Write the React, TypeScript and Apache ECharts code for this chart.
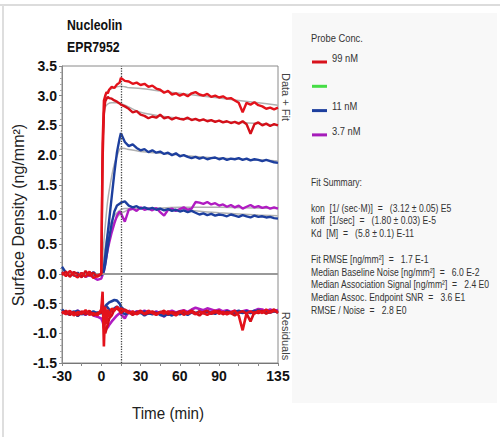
import React, { useEffect, useRef } from "react";
import * as echarts from "echarts";

const SANS = '"Liberation Sans", Arial, sans-serif';

// time points (min)
const times = [
  -30, -27, -24, -21, -18, -15, -12, -9, -6, -3,
  0, 1, 2, 3, 4, 5, 6, 8, 10, 12, 14, 15,
  18, 21, 24, 27, 30, 33, 36, 39, 42, 45, 48, 51, 54, 57, 60, 63, 66, 69, 72, 75, 78, 81, 84, 87,
  90, 93, 96, 99, 102, 105, 108, 111, 114, 117, 120, 123, 126, 129, 132, 135,
];

const redA = [
  0.03, -0.04, 0.05, -0.02, -0.06, 0.02, -0.05, 0.04, -0.07, -0.03,
  0.0, 2.2, 2.92, 3.0, 3.06, 3.04, 3.1, 3.15, 3.13, 3.19, 3.22, 3.3,
  3.25, 3.24, 3.2, 3.22, 3.18, 3.2, 3.15, 3.17, 3.12, 3.1, 3.05, 3.08, 3.02, 3.04, 3.0, 3.03, 2.99, 3.04, 3.06, 3.02, 3.0, 3.03, 2.98, 3.0,
  2.97, 2.99, 2.95, 2.96, 2.92, 2.88, 2.72, 2.88, 2.85, 2.89, 2.84, 2.82, 2.78, 2.8, 2.77, 2.8,
];
const redB = [
  -0.02, 0.04, -0.05, 0.03, 0.0, -0.06, 0.05, -0.03, 0.02, -0.05,
  0.0, 1.9, 2.7, 2.9, 2.95, 2.98, 2.96, 2.95, 2.92, 2.9, 2.87, 2.85,
  2.82, 2.78, 2.72, 2.74, 2.68, 2.66, 2.62, 2.65, 2.63, 2.68, 2.62, 2.64, 2.6, 2.63, 2.61, 2.6, 2.63, 2.59, 2.61, 2.58, 2.6, 2.57, 2.59, 2.56,
  2.58, 2.55, 2.57, 2.54, 2.56, 2.53, 2.57, 2.52, 2.36, 2.52, 2.55, 2.5, 2.53, 2.49, 2.52, 2.5,
];
const blueA = [
  0.12, 0.02, -0.03, 0.03, -0.02, 0.01, -0.04, 0.02, -0.01, -0.02,
  0.0, 0.0, 0.1, 0.3, 0.5, 0.7, 0.9, 1.3, 1.7, 2.05, 2.28, 2.37,
  2.22, 2.15, 2.18, 2.12, 2.08, 2.1, 2.05, 2.08, 2.04, 2.06, 2.02, 2.04, 2.0, 2.03, 1.98, 2.0, 1.97, 1.95, 1.97, 1.94, 1.96, 1.93, 1.95, 1.96,
  1.93, 1.95, 1.92, 1.94, 1.93, 1.95, 1.92, 1.94, 1.91, 1.93, 1.92, 1.9, 1.92, 1.9, 1.88, 1.87,
];
const blueB = [
  0.03, -0.02, 0.04, -0.03, 0.02, -0.04, 0.01, -0.02, 0.03, -0.03,
  -0.02, 0.0, 0.05, 0.15, 0.3, 0.45, 0.6, 0.85, 1.05, 1.15, 1.18, 1.2,
  1.22, 1.15, 1.12, 1.14, 1.1, 1.12, 1.09, 1.11, 1.08, 1.1, 1.07, 1.09, 1.06, 1.08, 1.05, 1.07, 1.04, 1.06, 1.03, 1.0, 1.02, 0.99, 1.01, 0.98,
  1.0, 0.99, 0.97, 1.0, 0.98, 0.96, 0.99, 0.97, 0.95, 0.98, 0.96, 0.97, 0.95, 0.96, 0.94, 0.93,
];
const purple = [
  0.0, 0.03, -0.02, 0.02, -0.03, 0.01, -0.05, -0.02, -0.06, -0.1,
  -0.08, -0.02, 0.05, 0.18, 0.3, 0.42, 0.52, 0.7, 0.85, 0.98, 1.05, 1.02,
  0.88, 1.08, 1.1, 1.06, 1.12, 1.08, 1.1, 1.07, 1.11, 1.04, 0.98, 1.08, 1.1, 1.06, 1.09, 1.12, 1.08, 1.1, 1.21, 1.2, 1.18, 1.21, 1.17, 1.19,
  1.15, 1.17, 1.13, 1.16, 1.12, 1.15, 1.1, 1.13, 1.16, 1.12, 1.14, 1.11, 1.13, 1.1, 1.12, 1.1,
];

// residuals (plotted offset around -0.65)
const resRedA = [
  -0.63, -0.68, -0.62, -0.7, -0.64, -0.67, -0.61, -0.69, -0.66, -0.7,
  -0.6, -0.3, -1.22, -0.55, -0.85, -0.6, -0.72, -0.58, -0.62, -0.55, -0.6, -0.58,
  -0.62, -0.66, -0.63, -0.68, -0.64, -0.67, -0.62, -0.66, -0.69, -0.64, -0.67, -0.63, -0.66, -0.7, -0.65, -0.62, -0.67, -0.64, -0.68, -0.63, -0.66, -0.69, -0.65, -0.62,
  -0.67, -0.64, -0.68, -0.65, -0.62, -0.7, -0.95, -0.66, -0.63, -0.67, -0.62, -0.66, -0.6, -0.65, -0.62, -0.64,
];
const resRedB = [
  -0.67, -0.62, -0.69, -0.64, -0.7, -0.63, -0.68, -0.62, -0.7, -0.66,
  -0.65, -0.45, -0.9, -1.0, -0.92, -0.85, -0.75, -0.7, -0.6, -0.58, -0.62, -0.66,
  -0.6, -0.64, -0.69, -0.65, -0.62, -0.68, -0.66, -0.63, -0.67, -0.65, -0.62, -0.68, -0.64, -0.66, -0.63, -0.69, -0.65, -0.62, -0.66, -0.7, -0.64, -0.62, -0.67, -0.65,
  -0.62, -0.68, -0.64, -0.66, -0.7, -0.65, -0.63, -0.67, -0.8, -0.64, -0.66, -0.62, -0.67, -0.63, -0.6, -0.66,
];
const resBlueA = [
  -0.6, -0.66, -0.69, -0.63, -0.71, -0.65, -0.68, -0.64, -0.67, -0.65,
  -0.65, -0.62, -0.58, -0.55, -0.52, -0.5, -0.48, -0.46, -0.44, -0.45, -0.5, -0.55,
  -0.62, -0.66, -0.64, -0.67, -0.65, -0.7, -0.66, -0.68, -0.65, -0.69, -0.71, -0.67, -0.7, -0.66, -0.68, -0.65, -0.67, -0.64, -0.66, -0.63, -0.66, -0.64, -0.67, -0.63,
  -0.65, -0.66, -0.63, -0.66, -0.64, -0.62, -0.65, -0.63, -0.66, -0.64, -0.61, -0.64, -0.62, -0.65, -0.63, -0.64,
];
const resBlueB = [
  -0.66, -0.63, -0.67, -0.65, -0.62, -0.68, -0.64, -0.66, -0.63, -0.67,
  -0.66, -0.64, -0.6, -0.56, -0.55, -0.57, -0.6, -0.63, -0.58, -0.55, -0.6, -0.63,
  -0.68, -0.65, -0.67, -0.64, -0.66, -0.63, -0.67, -0.65, -0.68, -0.64, -0.66, -0.69, -0.65, -0.67, -0.64, -0.66, -0.69, -0.65, -0.67, -0.64, -0.66, -0.63, -0.65, -0.67,
  -0.64, -0.66, -0.63, -0.65, -0.67, -0.64, -0.66, -0.63, -0.65, -0.62, -0.65, -0.63, -0.66, -0.64, -0.62, -0.65,
];
const resPurple = [
  -0.64, -0.67, -0.63, -0.66, -0.62, -0.66, -0.69, -0.65, -0.7, -0.72,
  -0.75, -0.8, -0.88, -0.95, -0.92, -0.9, -0.86, -0.8, -0.75, -0.7, -0.66, -0.68,
  -0.75, -0.62, -0.66, -0.63, -0.65, -0.62, -0.64, -0.66, -0.63, -0.67, -0.72, -0.64, -0.62, -0.65, -0.63, -0.61, -0.64, -0.6, -0.57, -0.59, -0.61, -0.58, -0.6, -0.62,
  -0.6, -0.63, -0.61, -0.64, -0.62, -0.65, -0.63, -0.61, -0.64, -0.62, -0.59, -0.6, -0.63, -0.6, -0.62, -0.61,
];

// fitted curves
const fitTimes = [-30, 0, 1, 2, 3, 5, 8, 10, 12, 15, 18, 20, 30, 45, 60, 90, 120, 135];
const fitRedA = [0, 0, 2.0, 2.7, 2.95, 3.08, 3.12, 3.14, 3.15, 3.16, 3.15, 3.14, 3.12, 3.08, 3.04, 2.96, 2.88, 2.84];
const fitRedB = [0, 0, 1.9, 2.6, 2.8, 2.86, 2.88, 2.88, 2.88, 2.87, 2.84, 2.82, 2.72, 2.66, 2.62, 2.57, 2.53, 2.5];
const fitBlueA = [0, 0, 0.3, 0.55, 0.8, 1.25, 1.65, 1.85, 1.98, 2.12, 2.11, 2.1, 2.06, 2.03, 2.0, 1.95, 1.92, 1.9];
const fitBlueB = [0, 0, 0.15, 0.3, 0.45, 0.7, 0.9, 0.98, 1.03, 1.08, 1.1, 1.1, 1.1, 1.09, 1.08, 1.03, 0.99, 0.98];
const fitPurple = [0, 0, 0.1, 0.2, 0.3, 0.55, 0.78, 0.88, 0.95, 1.02, 1.05, 1.07, 1.1, 1.11, 1.12, 1.12, 1.11, 1.1];

const xTickLabels = [-30, 0, 30, 60, 90, 135];
const legendItems = ["99 nM", "", "11 nM", "3.7 nM"];
const legendColors = ["#d8121c", "#45dd45", "#1d3f9e", "#a51cba"];
const summaryLines = [
  "Fit Summary:",
  "",
  "kon  [1/ (sec·M)]  =   (3.12 ± 0.05) E5",
  "koff  [1/sec]  =   (1.80 ± 0.03) E-5",
  "Kd  [M]  =   (5.8 ± 0.1) E-11",
  "",
  "Fit RMSE [ng/mm²]  =   1.7 E-1",
  "Median Baseline Noise [ng/mm²]  =   6.0 E-2",
  "Median Association Signal [ng/mm²]  =   2.4 E0",
  "Median Assoc. Endpoint SNR  =   3.6 E1",
  "RMSE / Noise  =   2.8 E0",
];

const RED = "#e3121b";
const RED2 = "#d40f19";
const BLUE = "#1d3f9e";
const PURPLE = "#b01cc2";

function pairs(xs: number[], ys: number[]) {
  return xs.map((x, i) => [x, ys[i]]);
}

export default function App() {
  const ref = useRef<HTMLDivElement>(null);
  useEffect(() => {
    if (!ref.current) return;
    const chart = echarts.init(ref.current, undefined, { renderer: "svg" });

    const dataLine = (name: string, ys: number[], color: string, z: number, w: number, extra: any = {}) => ({
      name,
      type: "line",
      data: pairs(times, ys),
      showSymbol: false,
      symbol: "none",
      lineStyle: { color, width: w },
      z,
      silent: true,
      ...extra,
    });
    const fitLine = (ys: number[]) => ({
      type: "line",
      data: pairs(fitTimes, ys),
      symbol: "none",
      smooth: 0.3,
      lineStyle: { color: "#b0b0b0", width: 1.5 },
      z: 1,
      silent: true,
    });

    const txt = (x: number, y: number, text: string, o: any = {}) => ({
      type: "text",
      x,
      y,
      scaleX: o.scaleX ?? 1,
      rotation: o.rotation ?? 0,
      silent: true,
      style: {
        text,
        fill: o.fill ?? "#333",
        fontSize: o.fontSize ?? 11,
        fontWeight: o.fontWeight ?? "normal",
        fontFamily: SANS,
        textAlign: o.align ?? "left",
        align: o.align ?? "left",
        textVerticalAlign: o.valign ?? "middle",
        verticalAlign: o.valign ?? "middle",
      },
    });

    const graphics: any[] = [];
    // frame
    graphics.push({ type: "rect", shape: { x: 0, y: 4, width: 500, height: 2 }, style: { fill: "#dcdcdc" }, silent: true });
    graphics.push({ type: "rect", shape: { x: 2, y: 5, width: 2, height: 432 }, style: { fill: "#dedede" }, silent: true });
    graphics.push({ type: "rect", shape: { x: 292, y: 13, width: 205, height: 390 }, style: { fill: "#f8f8f8" }, silent: true, z: -10 });
    // title
    graphics.push(txt(67, 25, "Nucleolin", { fontSize: 15, fontWeight: "bold", fill: "#111", scaleX: 0.82 }));
    graphics.push(txt(67, 47, "EPR7952", { fontSize: 15, fontWeight: "bold", fill: "#111", scaleX: 0.82 }));
    // axis names
    graphics.push(txt(18, 215, "Surface Density (ng/mm²)", { fontSize: 16, fill: "#222", align: "center", rotation: Math.PI / 2 }));
    graphics.push(txt(168, 413, "Time (min)", { fontSize: 16, fill: "#222", align: "center", scaleX: 0.95 }));
    graphics.push(txt(286, 97, "Data + Fit", { fontSize: 11, fill: "#444", align: "center", rotation: -Math.PI / 2 }));
    graphics.push(txt(286, 336, "Residuals", { fontSize: 11, fill: "#444", align: "center", rotation: -Math.PI / 2 }));
    // legend
    graphics.push(txt(311, 38, "Probe Conc.", { fontSize: 11, scaleX: 0.85 }));
    legendItems.forEach((lab, i) => {
      const y = 62 + i * 24.3;
      graphics.push({ type: "line", shape: { x1: 312, y1: y, x2: 327, y2: y }, style: { stroke: legendColors[i], lineWidth: 3 }, silent: true });
      if (lab) graphics.push(txt(332, y - 4, lab, { fontSize: 11, scaleX: 0.85 }));
    });
    // summary
    summaryLines.forEach((s, i) => {
      if (!s) return;
      graphics.push(txt(311, 182 + i * 12.8, s, { fontSize: 11, scaleX: 0.78 }));
    });

    chart.setOption({
      animation: false,
      backgroundColor: "#ffffff",
      grid: { left: 62, top: 66, width: 216, height: 297, show: true, borderColor: "#8a8a8a", borderWidth: 1, backgroundColor: "transparent" },
      xAxis: {
        type: "value",
        min: -30,
        max: 135,
        interval: 15,
        splitLine: { show: false },
        axisLine: { onZero: false, lineStyle: { color: "#777" } },
        axisTick: { show: true, length: 3, lineStyle: { color: "#888" } },
        axisLabel: {
          color: "#111",
          fontSize: 14,
          fontWeight: "bold",
          fontFamily: SANS,
          margin: 6,
          formatter: (v: number) => (xTickLabels.includes(v) ? String(v) : ""),
        },
      },
      yAxis: {
        type: "value",
        min: -1.5,
        max: 3.5,
        interval: 0.5,
        splitLine: { show: false },
        axisLine: { show: true, onZero: false, lineStyle: { color: "#888" } },
        axisTick: { show: true, length: 3, lineStyle: { color: "#888" } },
        minorTick: { show: true, splitNumber: 5, length: 2, lineStyle: { color: "#aaa" } },
        axisLabel: {
          color: "#111",
          fontSize: 14,
          fontWeight: "bold",
          fontFamily: SANS,
          margin: 5,
          formatter: (v: number) => v.toFixed(1),
        },
      },
      graphic: graphics,
      series: [
        fitLine(fitRedA),
        fitLine(fitRedB),
        fitLine(fitBlueA),
        fitLine(fitBlueB),
        fitLine(fitPurple),
        dataLine("3.7 nM", purple, PURPLE, 3, 2.4),
        dataLine("11 nM b", blueB, BLUE, 4, 2.4),
        dataLine("11 nM", blueA, BLUE, 4, 2.4),
        dataLine("99 nM b", redB, RED2, 5, 2.4),
        dataLine("99 nM", redA, RED, 5, 2.4, {
          markLine: {
            silent: true,
            symbol: "none",
            label: { show: false },
            data: [
              { xAxis: 15, lineStyle: { color: "#444", type: "dotted", width: 1.3 } },
              { yAxis: 0, lineStyle: { color: "#999", type: "solid", width: 2 } },
            ],
          },
        }),
        dataLine("res purple", resPurple, PURPLE, 3, 2.6),
        dataLine("res blue b", resBlueB, BLUE, 4, 2.6),
        dataLine("res blue", resBlueA, BLUE, 4, 2.6),
        dataLine("res red b", resRedB, RED2, 5, 2.6),
        dataLine("res red", resRedA, RED, 5, 2.6),
      ],
    });
    return () => chart.dispose();
  }, []);
  return <div ref={ref} style={{ position: "fixed", left: 0, top: 0, width: 500, height: 437 }} />;
}
